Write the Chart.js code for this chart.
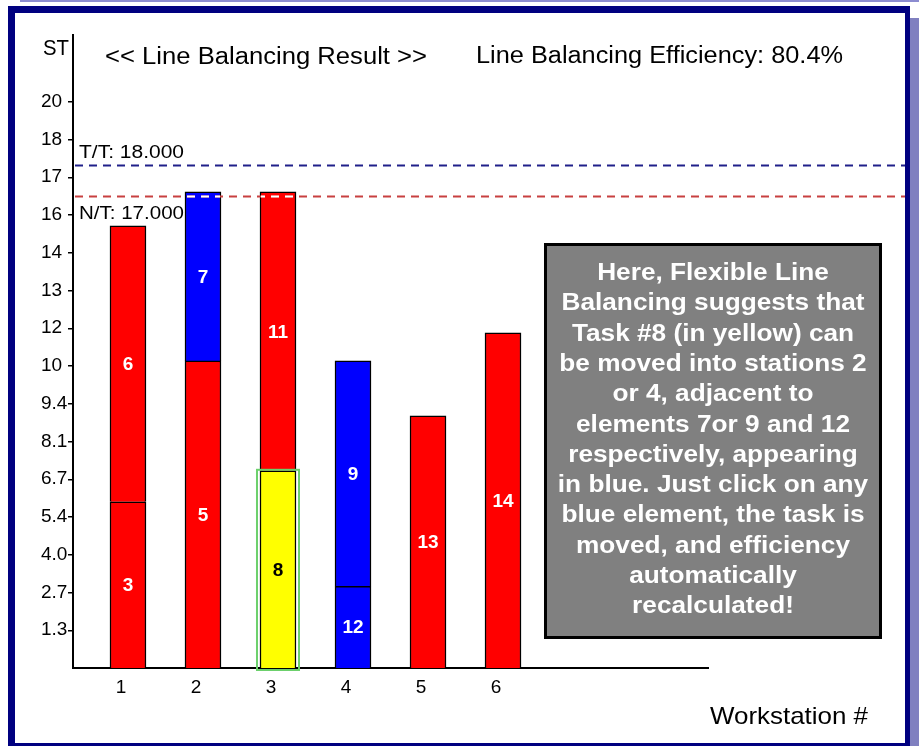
<!DOCTYPE html>
<html><head><meta charset="utf-8">
<script src="https://cdn.jsdelivr.net/npm/chart.js@4/dist/chart.umd.min.js"></script>
<style>html,body{margin:0;padding:0;background:#fff;overflow:hidden}canvas{display:block}</style>
</head><body>
<canvas id="c" width="919" height="746"></canvas>
<script>
// ---------- data ----------
const stations = [1, 2, 3, 4, 5, 6];
const stationLabels = ['1', '2', '3', '4', '5', '6'];
const lowerTaskIds = ['3', '5', '8', '12', '13', '14'];
const lowerTaskTimes = [5.9, 10.9, 7.0, 2.9, 8.95, 11.9];
const upperStations = [1, 2, 3, 4];
const upperTaskIds = ['6', '7', '11', '9'];
const upperTaskTimes = [9.8, 6.0, 9.9, 8.0];
const yTickValues = [1.34, 2.68, 4.02, 5.36, 6.70, 8.04, 9.38, 10.72, 12.06, 13.40, 14.74, 16.08, 17.42, 18.76, 20.10];
const yTickLabels = ['1.3', '2.7', '4.0', '5.4', '6.7', '8.1', '9.4', '10', '12', '13', '14', '16', '17', '18', '20'];
const taktLine = 17.86;
const netLine = 16.76;
const taktLabel = 'T/T: 18.000';
const netLabel = 'N/T: 17.000';
const yAxisTitle = 'ST';
const chartTitle = '<< Line Balancing Result >>';
const efficiencyLabel = 'Line Balancing Efficiency: 80.4%';
const xAxisTitle = 'Workstation #';
const noteLines = [
  'Here, Flexible Line',
  'Balancing suggests that',
  'Task #8 (in yellow) can',
  'be moved into stations 2',
  'or 4, adjacent to',
  'elements 7or 9 and 12',
  'respectively, appearing',
  'in blue. Just click on any',
  'blue element, the task is',
  'moved, and efficiency',
  'automatically',
  'recalculated!'
];

// ---------- styles ----------
const RED = '#ff0000', BLUE = '#0000ff', YEL = '#ffff00';
const lowerColors = [RED, RED, YEL, BLUE, RED, RED];
const upperColors = [RED, BLUE, RED, BLUE];
const FONT = '"Liberation Sans", Arial, sans-serif';
Chart.defaults.font.family = FONT;

function stretchText(ctx, text, x, y, font, width, align, color) {
  ctx.save();
  ctx.font = font;
  ctx.fillStyle = color || '#000';
  ctx.textBaseline = 'alphabetic';
  ctx.textAlign = 'left';
  const w = ctx.measureText(text).width;
  const sx = width ? width / w : 1;
  const left = align === 'center' ? x - (w * sx) / 2 : x;
  ctx.translate(left, y);
  ctx.scale(sx, 1);
  ctx.fillText(text, 0, 0);
  ctx.restore();
}

const framePlugin = {
  id: 'frame',
  beforeDraw(chart) {
    const ctx = chart.ctx;
    ctx.save();
    ctx.fillStyle = '#ffffff';
    ctx.fillRect(0, 0, 919, 746);
    ctx.fillStyle = '#8c8cd0';
    ctx.fillRect(20, 0, 899, 2);
    ctx.fillStyle = '#8080c0';
    ctx.fillRect(910, 18, 9, 728);
    ctx.fillStyle = '#000080';
    ctx.fillRect(8, 6, 902, 7);
    ctx.fillRect(8, 6, 7, 740);
    ctx.fillRect(905, 6, 5, 740);
    ctx.fillRect(8, 743, 902, 3);
    ctx.restore();
  }
};

const overlayPlugin = {
  id: 'overlay',
  afterDatasetsDraw(chart) {
    const ctx = chart.ctx;
    const y = chart.scales.y;
    // segment labels
    chart.data.datasets.forEach((ds, di) => {
      const meta = chart.getDatasetMeta(di);
      meta.data.forEach((el, i) => {
        const ids = ds.taskIds;
        ctx.save();
        ctx.font = 'bold 19px ' + FONT;
        ctx.fillStyle = ds.backgroundColor[i] === YEL ? '#000' : '#fff';
        ctx.textAlign = 'center';
        ctx.textBaseline = 'middle';
        ctx.fillText(ids[i], el.x, (el.y + el.base) / 2 + 1);
        ctx.restore();
      });
    });
    // green highlight around task 8
    const el8 = chart.getDatasetMeta(0).data[2];
    ctx.save();
    ctx.strokeStyle = '#6cd06c';
    ctx.lineWidth = 2;
    ctx.strokeRect(el8.x - el8.width / 2 - 3, el8.y - 1, el8.width + 6, el8.base - el8.y + 3);
    ctx.restore();
    // dashed reference lines
    const bars = [];
    chart.data.datasets.forEach((ds, di) => {
      chart.getDatasetMeta(di).data.forEach(el => bars.push(el));
    });
    const drawDash = (val, color) => {
      const py = Math.round(y.getPixelForValue(val)) + 0.5;
      ctx.save();
      ctx.setLineDash([8, 6]);
      ctx.lineWidth = 2;
      ctx.strokeStyle = color;
      ctx.beginPath(); ctx.moveTo(75, py); ctx.lineTo(905, py); ctx.stroke();
      ctx.beginPath();
      bars.forEach(el => {
        if (py > el.y && py < el.base) ctx.rect(el.x - el.width / 2 + 1, el.y, el.width - 2, el.base - el.y);
      });
      ctx.clip();
      ctx.strokeStyle = '#ffffff';
      ctx.beginPath(); ctx.moveTo(75, py); ctx.lineTo(905, py); ctx.stroke();
      ctx.restore();
    };
    drawDash(taktLine, '#20208a');
    drawDash(netLine, '#c84040');
  },
  afterDraw(chart) {
    const ctx = chart.ctx;
    stretchText(ctx, yAxisTitle, 43, 55, '22px ' + FONT, 26, 'left');
    stretchText(ctx, chartTitle, 105, 64, '23px ' + FONT, 322, 'left');
    stretchText(ctx, efficiencyLabel, 476, 63, '23px ' + FONT, 367, 'left');
    stretchText(ctx, taktLabel, 79, 158, '18px ' + FONT, 105, 'left');
    stretchText(ctx, netLabel, 79, 219, '18px ' + FONT, 105, 'left');
    stretchText(ctx, xAxisTitle, 710, 724, '24px ' + FONT, 158, 'left');
    // note box
    ctx.save();
    ctx.fillStyle = '#808080';
    ctx.fillRect(544, 243, 338, 396);
    ctx.strokeStyle = '#000';
    ctx.lineWidth = 3;
    ctx.strokeRect(545.5, 244.5, 335, 393);
    ctx.restore();
    ctx.save();
    ctx.font = 'bold 23px ' + FONT;
    noteLines.forEach((line, i) => {
      const w = ctx.measureText(line).width;
      stretchText(ctx, line, 713, 280 + i * 30.3, 'bold 23px ' + FONT, w * 1.14, 'center', '#ffffff');
    });
    ctx.restore();
  }
};

new Chart(document.getElementById('c'), {
  type: 'bar',
  data: {
    datasets: [
      {
        label: 'lower',
        data: stations.map((s, i) => ({ x: s, y: lowerTaskTimes[i] })),
        taskIds: lowerTaskIds,
        backgroundColor: lowerColors,
        borderColor: '#000',
        borderWidth: 1.5,
        barThickness: 36,
        stack: 's'
      },
      {
        label: 'upper',
        data: upperStations.map((s, i) => ({ x: s, y: upperTaskTimes[i] })),
        taskIds: upperTaskIds,
        backgroundColor: upperColors,
        borderColor: '#000',
        borderWidth: 1.5,
        barThickness: 36,
        stack: 's'
      }
    ]
  },
  options: {
    responsive: false,
    animation: false,
    devicePixelRatio: 1,
    layout: { padding: { left: 41, top: 35, right: 211, bottom: 0 } },
    plugins: { legend: { display: false }, tooltip: { enabled: false }, title: { display: false } },
    scales: {
      x: {
        type: 'linear',
        offset: false,
        min: 0.267,
        max: 8.733,
        stacked: true,
        afterFit: s => { s.height = 78; },
        afterBuildTicks: s => { s.ticks = stations.map(v => ({ value: v })); },
        ticks: {
          callback: (v, i) => stationLabels[i],
          autoSkip: false,
          maxRotation: 0,
          labelOffset: -7,
          padding: 8,
          color: '#000',
          font: { size: 19 }
        },
        grid: { display: false, drawTicks: false },
        border: { display: true, color: '#000', width: 2 }
      },
      y: {
        type: 'linear',
        min: 0,
        max: 22.47,
        stacked: true,
        afterFit: s => { s.width = 32; },
        afterBuildTicks: s => { s.ticks = yTickValues.map(v => ({ value: v })); },
        ticks: {
          callback: (v, i) => yTickLabels[i],
          autoSkip: false,
          crossAlign: 'far',
          padding: 0,
          color: '#000',
          font: { size: 19 }
        },
        grid: { drawOnChartArea: false, tickLength: 5, color: '#000', lineWidth: 1.5 },
        border: { display: true, color: '#000', width: 2 }
      }
    }
  },
  plugins: [framePlugin, overlayPlugin]
});
</script>
</body></html>
